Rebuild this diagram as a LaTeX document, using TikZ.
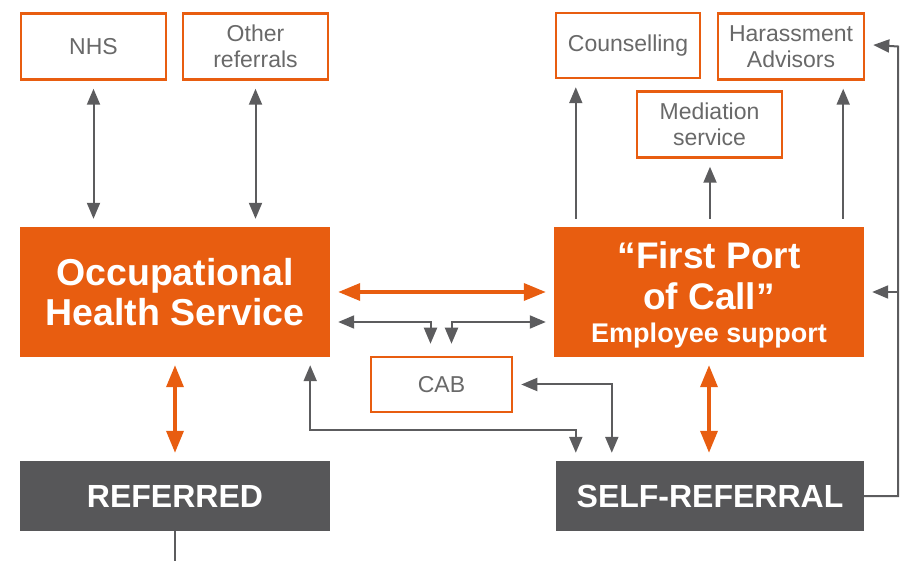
\documentclass[tikz,border=0pt]{standalone}
\usepackage{fontspec}
\setmainfont{Liberation Sans}
\usetikzlibrary{arrows.meta}

\definecolor{ohsorange}{RGB}{232,93,16}
\definecolor{boxgrey}{RGB}{87,87,89}
\definecolor{linegrey}{RGB}{92,92,94}
\definecolor{textgrey}{RGB}{105,105,105}

\tikzset{
  smallbox/.style={draw=ohsorange, line width=2.5pt, fill=white, text=textgrey,
    font=\fontsize{23}{26}\selectfont, align=center,
    minimum width=145pt, minimum height=66pt, inner sep=0pt},
  bigbox/.style={fill=ohsorange, text=white, font=\fontsize{37.5}{40}\selectfont\bfseries,
    align=center, minimum width=310pt, minimum height=130pt, inner sep=0pt},
  darkbox/.style={fill=boxgrey, text=white, font=\fontsize{32}{34}\selectfont\bfseries,
    minimum width=310pt, minimum height=70pt, inner sep=0pt},
  garrow/.style={draw=linegrey, line width=2pt, >={Triangle[length=16pt,width=13pt]},
    shorten >=8pt, shorten <=8pt},
  oarrow/.style={draw=ohsorange, line width=3.5pt, >={Triangle[length=22pt,width=17pt]},
    shorten >=8pt, shorten <=8pt}
}

\begin{document}
\begin{tikzpicture}[x=1pt,y=-1pt]
\useasboundingbox (0,0) rectangle (903,561);

% outside services
\node[smallbox] (nhs) at (93.5,46.5) {NHS};
\node[smallbox] (other) at (255.5,46.5) {Other\\referrals};
\node[smallbox, minimum width=144pt, minimum height=65pt] (couns) at (628,45.5) {Counselling};
\node[smallbox, minimum width=146pt] (harass) at (791,46.5) {Harassment\\Advisors};
\node[smallbox] (med) at (709.5,124.5) {Mediation\\service};
\node[smallbox, minimum width=141pt, minimum height=55pt] (cab) at (441.5,384.5) {CAB};

% main services
\node[bigbox] (ohs) at (175,292) {Occupational\\Health Service};
\node[bigbox] (fpc) at (709,292) {};
\node[text=white, font=\fontsize{37}{41}\selectfont\bfseries, align=center] (fpctext)
  at ([yshift=-3pt]fpc.center)
  {“First Port\\of Call”\\[-8pt]{\fontsize{27}{29}\selectfont Employee support}};

% entry routes
\node[darkbox] (ref) at (175,496) {REFERRED};
\node[darkbox, minimum width=308pt] (self) at (710,496) {SELF-REFERRAL};

% links above the occupational health service
\draw[garrow,<->] (nhs.south) -- (nhs.south |- ohs.north);
\draw[garrow,<->] (other.south) -- (other.south |- ohs.north);

% links above first port of call
\draw[garrow,->] ([xshift=22pt]fpc.north west) -- ([xshift=22pt]fpc.north west |- couns.south);
\draw[garrow,->] ([xshift=1pt]fpc.north) -- ([xshift=1pt]fpc.north |- med.south);
\draw[garrow,->] ([xshift=-21pt]fpc.north east) -- ([xshift=-21pt]fpc.north east |- harass.south);

% between the two services and CAB
\draw[oarrow,<->] (ohs.east) -- (fpc.west);
\draw[garrow,<->,shorten >=12pt] ([yshift=-30pt]ohs.east) -| ([xshift=-11pt]cab.north);
\draw[garrow,<->,shorten >=12pt] ([yshift=-30pt]fpc.west) -| ([xshift=10pt]cab.north);

% down to the entry routes
\draw[oarrow,<->] (ohs.south) -- (ref.north);
\draw[oarrow,<->] (fpc.south) -- (fpc.south |- self.north);
\draw[garrow,<->] ([xshift=-20pt]ohs.south east) |- ([xshift=20pt,yshift=31pt]self.north west) -- ([xshift=20pt]self.north west);
\draw[garrow,<->] (cab.east) -| ([xshift=56pt]self.north west);

% self-referral loop on the right
\coordinate (rail) at (898,0);
\draw[garrow,->,shorten <=0pt] (self.east) -| (rail |- harass.east) -- ([yshift=2pt]harass.east);
\draw[garrow,->,shorten <=0pt] (rail |- fpc.east) -- (fpc.east);

% line leaving the bottom
\draw[draw=linegrey, line width=2pt] (ref.south) -- (ref.south |- 0,561);
\end{tikzpicture}
\end{document}
